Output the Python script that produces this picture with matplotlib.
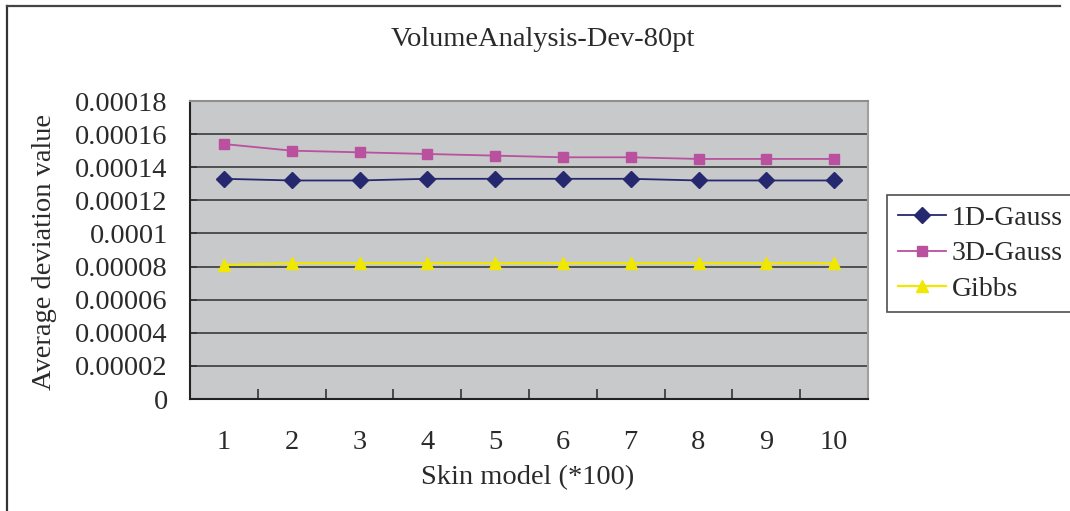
#!/usr/bin/env python3
"""
Average deviation of volume analysis for three skin models
"""

import matplotlib
matplotlib.use('Agg')
import matplotlib.pyplot as plt
from matplotlib.lines import Line2D
from matplotlib.ticker import FixedLocator

# Skin model size (*100)
models = [1, 2, 3, 4, 5, 6, 7, 8, 9, 10]

# Average deviation per model
gauss_1d = [0.000133, 0.000132, 0.000132, 0.000133, 0.000133,
            0.000133, 0.000133, 0.000132, 0.000132, 0.000132]
gauss_3d = [0.000154, 0.000150, 0.000149, 0.000148, 0.000147,
            0.000146, 0.000146, 0.000145, 0.000145, 0.000145]
gibbs = [0.000081, 0.000082, 0.000082, 0.000082, 0.000082,
         0.000082, 0.000082, 0.000082, 0.000082, 0.000082]

y_ticks = [0, 0.00002, 0.00004, 0.00006, 0.00008, 0.0001,
           0.00012, 0.00014, 0.00016, 0.00018]
y_labels = ['0', '0.00002', '0.00004', '0.00006', '0.00008', '0.0001',
            '0.00012', '0.00014', '0.00016', '0.00018']

plt.rcParams['font.family'] = ['Liberation Serif', 'DejaVu Serif']
text_color = '#2a2a2a'
fs = 20.5

fig = plt.figure(figsize=(10.70, 5.11), dpi=100)
ax = fig.add_axes([190 / 1070, 1 - 399 / 511, 678 / 1070, 298 / 511])
ax.set_facecolor('#c8c9cb')

ax.plot(models, gauss_1d, color='#26286f', marker='D', markersize=8,
        linewidth=1.3, label='1D-Gauss', zorder=4)
ax.plot(models, gauss_3d, color='#b9519e', marker='s', markersize=7.5,
        linewidth=1.3, label='3D-Gauss', zorder=4)
ax.plot(models, gibbs, color='#f0e800', marker='^', markersize=9,
        linewidth=1.6, label='Gibbs', zorder=4)

ax.set_xlim(0.5, 10.5)
ax.set_ylim(0, 0.00018)

# Category labels centred in bins, tick marks on the bin edges
ax.set_xticks(models)
ax.set_xticklabels([str(m) for m in models])
ax.xaxis.set_minor_locator(FixedLocator([m + 0.5 for m in models[:-1]]))
ax.tick_params(axis='x', which='major', length=0, pad=22,
               labelsize=fs, labelcolor=text_color)
ax.tick_params(axis='x', which='minor', direction='in', length=7,
               width=1.2, color='#333333')

ax.set_yticks(y_ticks)
ax.set_yticklabels(y_labels)
ax.tick_params(axis='y', direction='in', length=5, width=1.2,
               color='#333333', pad=16, labelsize=fs, labelcolor=text_color)

ax.yaxis.grid(True, color='#2e2e2e', linewidth=1.1)
ax.set_axisbelow(True)

ax.spines['left'].set_color('#222222')
ax.spines['bottom'].set_color('#222222')
ax.spines['top'].set_color('#8e8e8e')
ax.spines['right'].set_color('#a0a0a0')
for s in ax.spines.values():
    s.set_linewidth(1.5)

fig.text(543 / 1070, 1 - 40 / 511, 'VolumeAnalysis-Dev-80pt', ha='center',
         va='center', fontsize=fs, color=text_color)
fig.text(528 / 1070, 1 - 478 / 511, 'Skin model (*100)', ha='center',
         va='center', fontsize=fs, color=text_color)
fig.text(45 / 1070, 1 - 252 / 511, 'Average deviation value', ha='center',
         va='center', rotation=90, fontsize=fs, color=text_color)

leg = fig.legend(loc='upper left', bbox_to_anchor=(887 / 1070, 1 - 195 / 511),
                 fontsize=20, frameon=True, fancybox=False, handlelength=1.75,
                 handletextpad=0.2, labelspacing=0.36, borderpad=0.38,
                 borderaxespad=0)
leg.get_frame().set_edgecolor('#222222')
leg.get_frame().set_linewidth(1.2)
for t in leg.get_texts():
    t.set_color(text_color)

# Chart frame: left and top edges
fig.add_artist(Line2D([7 / 1070, 7 / 1070], [0, 1 - 6 / 511],
                      color='#333333', linewidth=1.6))
fig.add_artist(Line2D([7 / 1070, 1060 / 1070], [1 - 6 / 511, 1 - 6 / 511],
                      color='#444444', linewidth=1.6))

fig.savefig('out.png', dpi=100)
